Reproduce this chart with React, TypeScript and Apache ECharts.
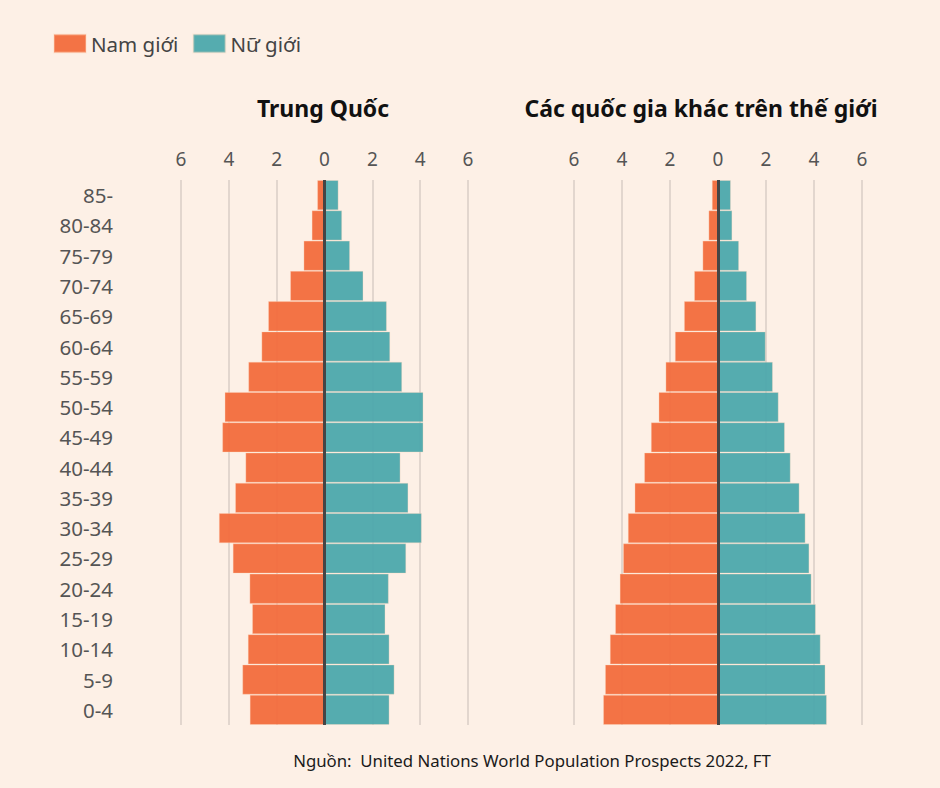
import React, { useEffect, useRef } from "react";
import * as echarts from "echarts";

const ageGroups = ["0-4", "5-9", "10-14", "15-19", "20-24", "25-29", "30-34", "35-39", "40-44", "45-49", "50-54", "55-59", "60-64", "65-69", "70-74", "75-79", "80-84", "85-"];
const chinaMale = [3.13, 3.44, 3.21, 3.03, 3.14, 3.84, 4.42, 3.74, 3.31, 4.28, 4.18, 3.19, 2.64, 2.36, 1.44, 0.88, 0.54, 0.31];
const chinaFemale = [2.72, 2.93, 2.72, 2.55, 2.69, 3.42, 4.07, 3.51, 3.18, 4.14, 4.14, 3.25, 2.75, 2.61, 1.63, 1.07, 0.74, 0.59];
const worldMale = [4.79, 4.71, 4.51, 4.29, 4.10, 3.96, 3.76, 3.48, 3.08, 2.80, 2.48, 2.19, 1.80, 1.42, 1.0, 0.65, 0.40, 0.26];
const worldFemale = [4.54, 4.48, 4.28, 4.08, 3.90, 3.81, 3.65, 3.40, 3.03, 2.79, 2.53, 2.29, 1.99, 1.60, 1.21, 0.88, 0.60, 0.54];
const seriesNames = ["Nam giới", "Nữ giới"];
const panelTitles = ["Trung Quốc", "Các quốc gia khác trên thế giới"];
const sourceText = "Nguồn:  United Nations World Population Prospects 2022, FT";

const ORANGE = "#F26B3C";
const TEAL = "#4CA8AC";
const BG = "#FDF0E6";
const FONT = "'Noto Sans', sans-serif";

export default function App() {
  const ref = useRef<HTMLDivElement>(null);
  useEffect(() => {
    document.body.style.margin = "0";
    const chart = echarts.init(ref.current!, undefined, { renderer: "svg" });
    const xAxisBase = (gridIndex: number) => ({
      type: "value",
      gridIndex,
      position: "top",
      min: -6,
      max: 6,
      interval: 2,
      axisLine: { show: false },
      axisTick: { show: false },
      splitLine: { show: true, lineStyle: { color: "#D8CEC6", width: 1.5 } },
      axisLabel: {
        margin: 12,
        color: "#555",
        fontSize: 19,
        fontFamily: FONT,
        formatter: (v: number) => String(Math.abs(v)),
      },
    });
    const yAxisBase = (gridIndex: number, showLabel: boolean) => ({
      type: "category",
      gridIndex,
      data: ageGroups,
      axisLine: { show: false },
      axisTick: { show: false },
      splitLine: { show: false },
      axisLabel: {
        show: showLabel,
        margin: 68,
        color: "#555",
        fontSize: 20.5,
        fontFamily: FONT,
        align: "right",
      },
    });
    const barSeries = (name: string, data: number[], color: string, idx: number, stack: string) => ({
      name,
      type: "bar",
      xAxisIndex: idx,
      yAxisIndex: idx,
      stack,
      data,
      barCategoryGap: "0%",
      itemStyle: {
        color,
        opacity: 0.95,
        borderColor: "rgba(255,215,190,0.35)",
        borderWidth: 1,
      },
      emphasis: { disabled: true },
    });
    const centerLine = {
      silent: true,
      symbol: "none",
      label: { show: false },
      lineStyle: { color: "#454545", width: 3, type: "solid" },
      data: [{ xAxis: 0 }],
    };
    const s1 = barSeries(seriesNames[0], chinaMale.map((v) => -v), ORANGE, 0, "china");
    const s2: any = barSeries(seriesNames[1], chinaFemale, TEAL, 0, "china");
    s2.markLine = centerLine;
    const s3 = barSeries(seriesNames[0], worldMale.map((v) => -v), ORANGE, 1, "world");
    const s4: any = barSeries(seriesNames[1], worldFemale, TEAL, 1, "world");
    s4.markLine = centerLine;

    chart.setOption({
      animation: false,
      backgroundColor: BG,
      legend: {
        left: 53,
        top: 33,
        padding: 0,
        data: seriesNames,
        icon: "rect",
        itemWidth: 32,
        itemHeight: 18,
        itemGap: 14,
        textStyle: { color: "#444", fontSize: 20.5, fontFamily: FONT },
        selectedMode: false,
      },
      grid: [
        { left: 181, width: 287, top: 180, height: 545 },
        { left: 574, width: 288, top: 180, height: 545 },
      ],
      xAxis: [xAxisBase(0), xAxisBase(1)],
      yAxis: [yAxisBase(0, true), yAxisBase(1, false)],
      series: [s1, s2, s3, s4],
      graphic: [
        {
          type: "text",
          x: 323,
          y: 108,
          style: {
            text: panelTitles[0],
            textAlign: "center",
            textVerticalAlign: "middle",
            fontSize: 23,
            fontWeight: "bold",
            fontFamily: FONT,
            fill: "#111",
          },
        },
        {
          type: "text",
          x: 701,
          y: 108,
          style: {
            text: panelTitles[1],
            textAlign: "center",
            textVerticalAlign: "middle",
            fontSize: 23,
            fontWeight: "bold",
            fontFamily: FONT,
            fill: "#111",
          },
        },
        {
          type: "text",
          x: 532,
          y: 760,
          style: {
            text: sourceText,
            textAlign: "center",
            textVerticalAlign: "middle",
            fontSize: 16.8,
            fontFamily: FONT,
            fill: "#1a1a1a",
          },
        },
      ],
    });
    return () => chart.dispose();
  }, []);
  return <div ref={ref} style={{ width: 940, height: 788, background: BG }} />;
}
